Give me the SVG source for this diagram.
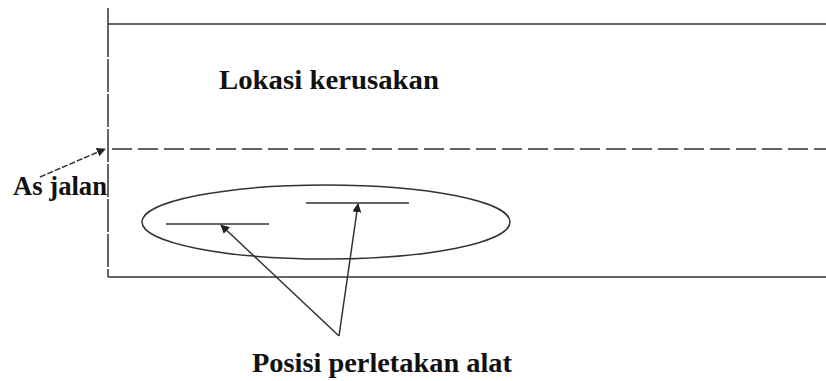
<svg xmlns="http://www.w3.org/2000/svg" width="826" height="381" viewBox="0 0 826 381">
<style>
.ln{stroke:#333;stroke-width:1.5;fill:none}
.t{font-family:"Liberation Serif","Times New Roman",serif;font-weight:bold;font-size:28px;fill:#111}
</style>
<defs>
<marker id="ah" viewBox="0 0 10 10" refX="9" refY="5" markerWidth="9" markerHeight="9" markerUnits="userSpaceOnUse" orient="auto">
<path d="M0,0 L10,5 L0,10 z" fill="#222"/>
</marker>
</defs>
<rect width="826" height="381" fill="#fff"/>
<g id="road">
<line class="ln" x1="108" y1="8" x2="108" y2="24"/>
<line class="ln" x1="108" y1="24" x2="108" y2="277" stroke-dasharray="33 2"/>
<line class="ln" x1="108" y1="24" x2="826" y2="24"/>
<line class="ln" x1="108" y1="277" x2="826" y2="277"/>
<line class="ln" x1="112" y1="149" x2="826" y2="149" stroke-dasharray="20 6"/>
</g>
<g id="area">
<ellipse class="ln" cx="326" cy="222" rx="184" ry="37"/>
</g>
<g id="tool1"><line class="ln" x1="166" y1="224" x2="269" y2="224"/></g>
<g id="tool2"><line class="ln" x1="306" y1="203" x2="409" y2="203"/></g>
<g id="labels">
<text class="t" x="219" y="89" textLength="220" lengthAdjust="spacingAndGlyphs">Lokasi kerusakan</text>
<text class="t" x="13" y="195" textLength="94" lengthAdjust="spacingAndGlyphs">As jalan</text>
<text class="t" x="252" y="372" textLength="260" lengthAdjust="spacingAndGlyphs">Posisi perletakan alat</text>
</g>
<g id="connectors">
<line class="ln" x1="40" y1="177" x2="105" y2="149" stroke-dasharray="6 2" marker-end="url(#ah)"/>
<line class="ln" x1="339" y1="336" x2="221" y2="225" marker-end="url(#ah)"/>
<line class="ln" x1="339" y1="336" x2="358" y2="204" marker-end="url(#ah)"/>
</g>
</svg>
